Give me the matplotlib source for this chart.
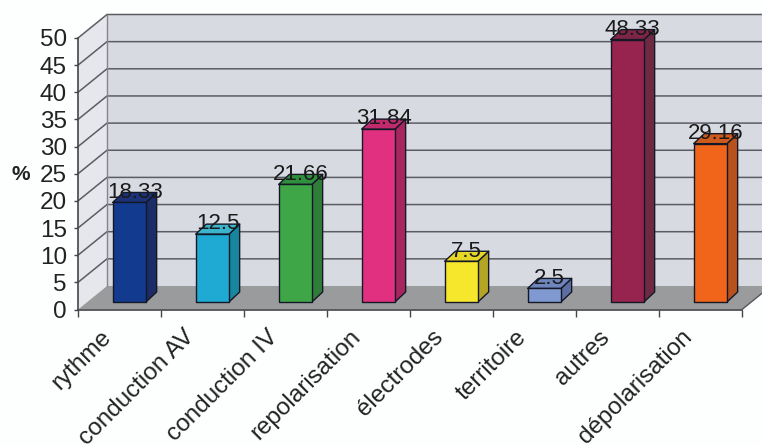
import matplotlib
matplotlib.use("Agg")
import matplotlib.pyplot as plt
from matplotlib.patches import Polygon
from matplotlib.transforms import ScaledTranslation

categories = ["rythme", "conduction AV", "conduction IV", "repolarisation",
              "électrodes", "territoire", "autres", "dépolarisation"]
values = [18.33, 12.5, 21.66, 31.84, 7.5, 2.5, 48.33, 29.16]
value_labels = ["18.33", "12.5", "21.66", "31.84", "7.5", "2.5", "48.33", "29.16"]
front_colors = ["#123a8e", "#1eaad2", "#3fa648", "#e0307f", "#f6e62c", "#8099d0", "#96244f", "#f0651a"]
side_colors = ["#1c2c66", "#16879f", "#2f7d38", "#a82560", "#b5a524", "#5c6fa0", "#6e2a42", "#b8521c"]
top_colors = ["#1b3278", "#3cb4cc", "#2f8f3c", "#c22a70", "#e6d628", "#6f86bd", "#7e2446", "#cf5a1c"]
y_ticks = list(range(0, 55, 5))

W, H = 762, 445
LEFT, RIGHT, Y0, Y50 = 78, 742, 309.5, 38
fig = plt.figure(figsize=(W / 100, H / 100), dpi=100, facecolor="#fdfefe")
plt.rcParams["font.family"] = ["Liberation Sans", "DejaVu Sans"]
ax = fig.add_axes([LEFT / W, 1 - Y0 / H, (RIGHT - LEFT) / W, (Y0 - Y50) / H])
ax.set_xlim(0, 8)
ax.set_ylim(0, 50)
ax.patch.set_alpha(0)
PX = (RIGHT - LEFT) / 8
PY = (Y0 - Y50) / 50
DX, DY = 29 / PX, 23.5 / PY      # depth of the floor
BDX, BDY = 10.7 / PX, 10 / PY    # depth of a bar
OX, OY = 9.8 / PX, 7.5 / PY      # offset of the bar front from the front plane
BW = 33.3 / PX

def poly(pts, fc, ec="none", lw=0, z=1):
    ax.add_patch(Polygon(pts, closed=True, fc=fc, ec=ec, lw=lw, zorder=z, clip_on=False, joinstyle="round"))

# walls and floor
poly([(0, 0), (DX, DY), (DX, 50 + DY), (0, 50)], "#e5e7ec", z=1)
poly([(DX, DY), (8.4, DY), (8.4, 50 + DY), (DX, 50 + DY)], "#d8dae2", z=1)
poly([(0, 0), (DX, DY), (8.4, DY), (8 + DX, DY), (8, 0)], "#9a9b9d", z=1.5)
for v in y_ticks[1:]:
    ax.plot([0, DX, 8.4], [v, v + DY, v + DY], color="#5c5d63", lw=1.1, zorder=2, clip_on=False)
ax.plot([DX, DX], [DY, 50 + DY], color="#85868c", lw=1.0, zorder=2, clip_on=False)
ax.plot([8, 8 + DX], [0, DY], color="#55565c", lw=1.0, zorder=2, clip_on=False)

# bars
edge = "#141826"
for i, v in enumerate(values):
    x0 = i + 0.5 - BW / 2 + OX
    x1 = x0 + BW
    b = OY
    t = OY + v
    poly([(x1, b), (x1 + BDX, b + BDY), (x1 + BDX, t + BDY), (x1, t)], side_colors[i], edge, 1.0, 3)
    poly([(x0, t), (x1, t), (x1 + BDX, t + BDY), (x0 + BDX, t + BDY)], top_colors[i], edge, 1.0, 3)
    poly([(x0, b), (x1, b), (x1, t), (x0, t)], front_colors[i], edge, 1.0, 3.1)
    ax.text(x0 + (BW + BDX) / 2, t + BDY + 0.2 / PY, value_labels[i], ha="center", va="center",
            fontsize=16, color="#1a1a1a", zorder=5, clip_on=False)

# axes
for s in ("top", "right"):
    ax.spines[s].set_visible(False)
for s in ("left", "bottom"):
    ax.spines[s].set_color("#444548")
    ax.spines[s].set_linewidth(1.2)
    ax.spines[s].set_zorder(4)
ax.set_yticks(y_ticks)
ax.tick_params(axis="y", labelsize=17.5, labelcolor="#222222", length=3, width=1, color="#444548", pad=5)
ax.set_xticks(range(0, 9))
ax.set_xticklabels([])
ax.set_xticks([i + 0.5 for i in range(8)], minor=True)
ax.set_xticklabels(categories, minor=True, rotation=45, ha="right", va="top",
                   rotation_mode="anchor", fontsize=17.5, color="#222222")
ax.tick_params(axis="x", which="major", length=5, width=1, color="#444548")
ax.tick_params(axis="x", which="minor", length=0, pad=14)
shift = ScaledTranslation(-19 / 100, 3 / 100, fig.dpi_scale_trans)
for lab in ax.get_xticklabels(minor=True):
    lab.set_transform(lab.get_transform() + shift)
ax.set_ylabel("%", rotation=0, fontsize=15, fontweight="bold", color="#222222", labelpad=0)
ax.yaxis.set_label_coords((21 - LEFT) / (RIGHT - LEFT), (Y0 - 174) / (Y0 - Y50), transform=ax.transAxes)
ax.yaxis.label.set_verticalalignment("center")
ax.yaxis.label.set_horizontalalignment("center")

fig.savefig("out.png", dpi=100, facecolor=fig.get_facecolor())
